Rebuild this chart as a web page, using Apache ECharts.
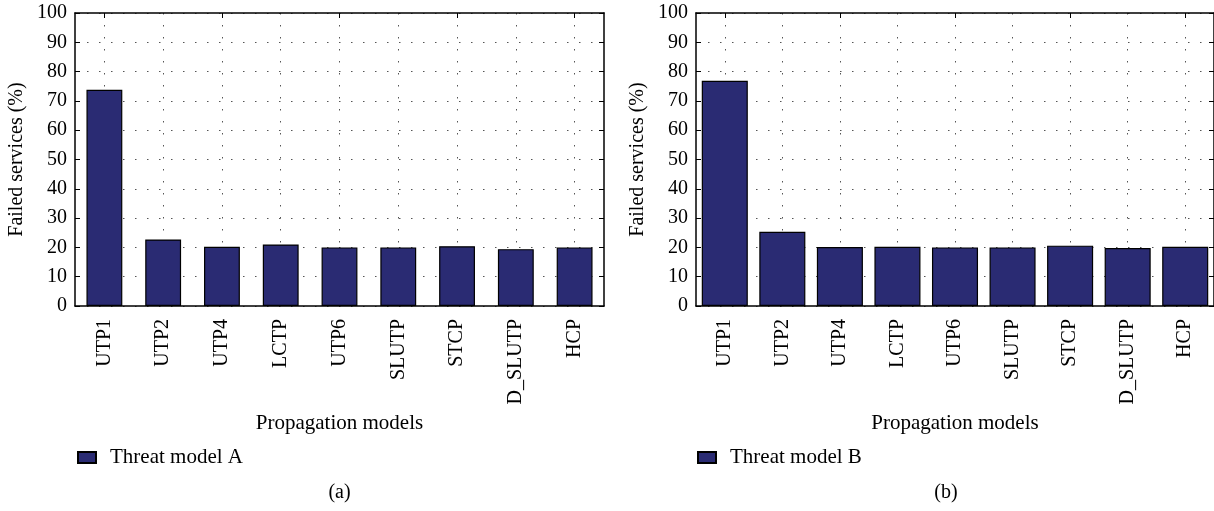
<!DOCTYPE html>
<html>
<head>
<meta charset="utf-8">
<script src="https://cdn.jsdelivr.net/npm/echarts@6/dist/echarts.min.js"></script>
<style>
  html, body { margin: 0; padding: 0; background: #fff; }
  #chart { width: 1214px; height: 511px; }
</style>
</head>
<body>
<div id="chart"></div>
<script>
// Propagation models on the x axis
const categories = ['UTP1', 'UTP2', 'UTP4', 'LCTP', 'UTP6', 'SLUTP', 'STCP', 'D_SLUTP', 'HCP'];
// Failed services (%) per propagation model
const threatModelA = [73.8, 22.7, 20.2, 21.0, 20.0, 20.0, 20.4, 19.4, 20.0];
const threatModelB = [76.9, 25.3, 20.1, 20.2, 20.0, 20.0, 20.6, 19.8, 20.2];
// y axis range
const yMin = 0, yMax = 100, yStep = 10;
const panelLabels = ['(a)', '(b)'];
const seriesNames = ['Threat model A', 'Threat model B'];

const FONT = 'Liberation Serif';
const BAR_COLOR = '#2a2b73';
const dotted = { color: '#555', width: 1, type: [1.5, 10.5] };
const frame = { show: true, onZero: false, lineStyle: { color: '#000', width: 1.5 } };
const textBase = { fontFamily: FONT, color: '#000' };

function xAxes(gridIndex) {
  return [
    {
      type: 'category', gridIndex, data: categories, position: 'bottom',
      axisLine: frame,
      axisTick: { show: true, inside: true, alignWithLabel: true, length: 5, lineStyle: { color: '#000' } },
      axisLabel: { ...textBase, rotate: 90, margin: 13, fontSize: 20, interval: 0 },
      splitLine: { show: true, alignWithLabel: true, lineStyle: dotted },
      name: 'Propagation models', nameLocation: 'middle', nameGap: 107,
      nameTextStyle: { ...textBase, fontSize: 21 }
    },
    {
      type: 'category', gridIndex, data: categories, position: 'top',
      axisLine: frame,
      axisTick: { show: true, inside: true, alignWithLabel: true, length: 5, lineStyle: { color: '#000' } },
      axisLabel: { show: false }, splitLine: { show: false }
    }
  ];
}

function yAxes(gridIndex) {
  return [
    {
      type: 'value', gridIndex, min: yMin, max: yMax, interval: yStep, position: 'left',
      axisLine: frame,
      axisTick: { show: true, inside: true, length: 5, lineStyle: { color: '#000' } },
      axisLabel: { ...textBase, margin: 8, fontSize: 20 },
      splitLine: { show: true, lineStyle: dotted },
      name: 'Failed services (%)', nameLocation: 'middle', nameGap: 48,
      nameTextStyle: { ...textBase, fontSize: 20 }
    },
    {
      type: 'value', gridIndex, min: yMin, max: yMax, interval: yStep, position: 'right',
      axisLine: frame,
      axisTick: { show: true, inside: true, length: 5, lineStyle: { color: '#000' } },
      axisLabel: { show: false }, splitLine: { show: false }
    }
  ];
}

function barSeries(name, data, axisIndex, gap) {
  return {
    type: 'bar', name, data,
    xAxisIndex: axisIndex, yAxisIndex: axisIndex,
    barCategoryGap: gap,
    itemStyle: { color: BAR_COLOR, borderColor: '#000', borderWidth: 1.2 },
    z: 3
  };
}

function legendFor(name, left) {
  return {
    data: [name], left, top: 442, itemWidth: 18, itemHeight: 11,
    icon: 'rect',
    textStyle: { ...textBase, fontSize: 21, padding: [0, 0, 0, 9] }
  };
}

function panelLabel(text, x) {
  return {
    type: 'text', x, y: 493,
    style: { text, fontFamily: FONT, fontSize: 20, fill: '#000',
             align: 'center', verticalAlign: 'middle' }
  };
}

const chart = echarts.init(document.getElementById('chart'), null, { renderer: 'canvas' });
chart.setOption({
  animation: false,
  backgroundColor: '#fff',
  grid: [
    { left: 75, top: 13, width: 529, height: 293 },
    { left: 696, top: 13, width: 522, height: 293 }
  ],
  xAxis: [...xAxes(0), ...xAxes(1)],
  yAxis: [...yAxes(0), ...yAxes(1)],
  legend: [legendFor(seriesNames[0], 72), legendFor(seriesNames[1], 692)],
  graphic: [panelLabel(panelLabels[0], 339.5), panelLabel(panelLabels[1], 946)],
  series: [
    barSeries(seriesNames[0], threatModelA, 0, '39%'),
    barSeries(seriesNames[1], threatModelB, 2, '20%')
  ]
});
</script>
</body>
</html>
